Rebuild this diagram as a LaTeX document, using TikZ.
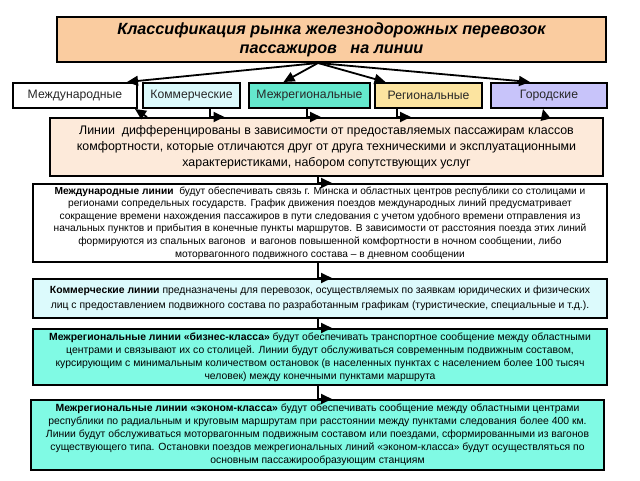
\documentclass[tikz,border=0pt]{standalone}
\usepackage{fontspec}
\setmainfont{Liberation Sans}
\usetikzlibrary{arrows.meta}
\definecolor{titlefill}{RGB}{250,204,160}
\definecolor{descfill}{RGB}{253,234,218}
\definecolor{komfill}{RGB}{220,250,252}
\definecolor{mregfill}{RGB}{100,232,205}
\definecolor{aquafill}{RGB}{128,250,228}
\definecolor{regfill}{RGB}{252,228,160}
\definecolor{gorfill}{RGB}{200,196,250}
\definecolor{cattext}{RGB}{40,40,40}
\tikzset{
  box/.style={draw=black, line width=2pt, rectangle, inner sep=1pt, align=center},
  catbox/.style={box, minimum height=25pt, text=cattext, font=\fontsize{12.2}{14}\selectfont},
  txtbox/.style={box, font=\fontsize{10.4}{13}\selectfont},
  arr/.style={line width=1.8pt, -{Triangle[length=11pt,width=10pt]}}
}
\begin{document}
\begin{tikzpicture}[x=1pt,y=-1pt]
\useasboundingbox (0,0) rectangle (640,480);
\fill[white] (0,0) rectangle (640,480);

\node[box, fill=titlefill, minimum width=549pt, minimum height=45pt,
  font=\fontsize{16.2}{19}\selectfont\bfseries\itshape] (title) at (331.5,39.5)
  {Классификация рынка железнодорожных перевозок\\пассажиров\ \ \ на линии};

\node[catbox, fill=white, minimum width=124pt] (mezhd) at (75,95.5) {Международные};
\node[catbox, fill=komfill, minimum width=97pt] (kom) at (191.5,95.5) {Коммерческие};
\node[catbox, fill=mregfill, minimum width=121pt] (mreg) at (309.5,95.5) {Межрегиональные};
\node[catbox, fill=regfill, minimum width=107pt] (reg) at (428.5,95.5) {Региональные};
\node[catbox, fill=gorfill, minimum width=116pt] (gor) at (549,95.5) {Городские};

\node[box, fill=descfill, minimum width=553pt, minimum height=58pt,
  font=\fontsize{12.4}{16}\selectfont] (desc) at (326.5,147)
  {Линии\ \ дифференцированы в зависимости от предоставляемых пассажирам классов\\
   комфортности, которые отличаются друг от друга техническими и эксплуатационными\\
   характеристиками, набором сопутствующих услуг};

\node[txtbox, fill=white, minimum width=574pt, minimum height=78pt,
  font=\fontsize{10.2}{12.6}\selectfont] (b1) at (320,223)
  {\textbf{Международные линии}\ \ будут обеспечивать связь г. Минска и областных центров республики со столицами и\\
   регионами сопредельных государств. График движения поездов международных линий предусматривает\\
   сокращение времени нахождения пассажиров в пути следования с учетом удобного времени отправления из\\
   начальных пунктов и прибытия в конечные пункты маршрутов. В зависимости от расстояния поезда этих линий\\
   формируются из спальных вагонов\ \ и вагонов повышенной комфортности в ночном сообщении, либо\\
   моторвагонного подвижного состава – в дневном сообщении};

\node[txtbox, fill=komfill, minimum width=574pt, minimum height=39pt,
  font=\fontsize{10.4}{15}\selectfont] (b2) at (320,298.5)
  {\textbf{Коммерческие линии} предназначены для перевозок, осуществляемых по заявкам юридических и физических\\
   лиц с предоставлением подвижного состава по разработанным графикам (туристические, специальные и т.д.).};

\node[txtbox, fill=aquafill, minimum width=574pt, minimum height=56pt] (b3) at (320,357)
  {\textbf{Межрегиональные линии «бизнес-класса»} будут обеспечивать транспортное сообщение между областными\\
   центрами и связывают их со столицей. Линии будут обслуживаться современным подвижным составом,\\
   курсирующим с минимальным количеством остановок (в населенных пунктах с населением более 100 тысяч\\
   человек) между конечными пунктами маршрута};

\node[txtbox, fill=aquafill, minimum width=573pt, minimum height=70pt] (b4) at (317.5,435)
  {\textbf{Межрегиональные линии «эконом-класса»} будут обеспечивать сообщение между областными центрами\\
   республики по радиальным и круговым маршрутам при расстоянии между пунктами следования более 400 км.\\
   Линии будут обслуживаться моторвагонным подвижным составом или поездами, сформированными из вагонов\\
   существующего типа. Остановки поездов межрегиональных линий «эконом-класса» будут осуществляться по\\
   основным пассажирообразующим станциям};

% title to categories
\coordinate (hub) at ([xshift=-13.5pt]title.south);
\draw[arr] (hub) -- ([xshift=52pt]mezhd.north);
\draw[arr] (hub) -- ([xshift=-26pt]mreg.north);
\draw[arr] (hub) -- ([xshift=-43pt]reg.north);
\draw[arr] (hub) -- ([xshift=-19pt]gor.north);

% categories and description
\draw[arr] ([xshift=-179.5pt]desc.north) -- ([xshift=60pt]mezhd.south);
\draw[arr] ([xshift=18.5pt]kom.south) |- ([xshift=-102pt]desc.north);
\draw[arr] ([xshift=-2.5pt]mreg.south) |- ([xshift=-5.5pt]desc.north);
\draw[arr] ([xshift=-31.5pt]reg.south) |- ([xshift=84.5pt]desc.north);
\draw[arr] ([xshift=218.5pt]desc.north) -- ([xshift=-6pt]gor.south);

% vertical chain
\draw[arr] ([xshift=-8.5pt]desc.south) |- ([xshift=12pt]b1.north);
\draw[arr] ([xshift=-2pt]b1.south) |- ([xshift=12pt]b2.north);
\draw[arr] ([xshift=-2pt]b2.south) |- ([xshift=12pt]b3.north);
\draw[arr] ([xshift=-2pt]b3.south) |- ([xshift=14.5pt]b4.north);
\end{tikzpicture}
\end{document}
